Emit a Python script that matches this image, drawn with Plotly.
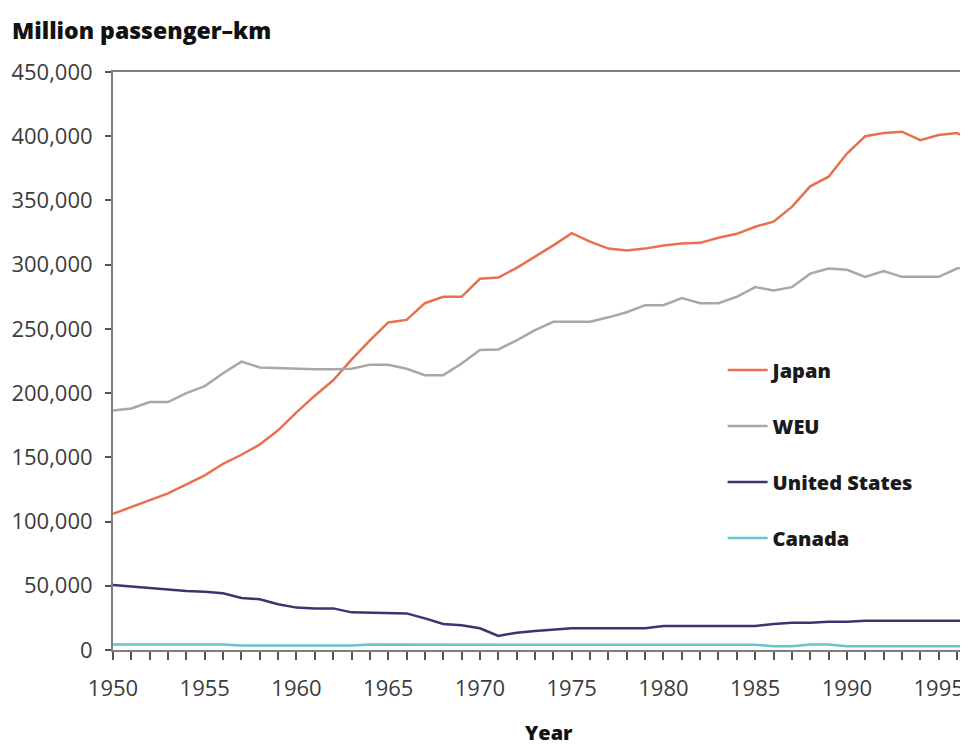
import plotly.graph_objects as go

years = list(range(1950, 1998))

japan = [106000, 111500, 117000, 122000, 129000, 136000, 145000, 152000, 160000, 171000,
         185000, 198000, 210000, 226000, 241000, 255000, 257000, 270000, 275000, 275000,
         289000, 290000, 297500, 306000, 315000, 324500, 318000, 312500, 311000, 312500,
         315000, 316500, 317000, 321000, 324000, 329500, 333500, 345000, 361000, 368500,
         386500, 400000, 402500, 403500, 397000, 401000, 402500, 396000]

weu = [186500, 188000, 193000, 193000, 200000, 205500, 215500, 224500, 220000, 219500,
       218500, 218500, 218500, 219000, 222000, 222000, 219000, 214000, 214000, 223000,
       233500, 234000, 241000, 249000, 255500, 255500, 255500, 259000, 263000, 268500,
       268500, 274000, 270000, 270000, 275000, 282500, 280000, 282500, 293000, 297000,
       296000, 290500, 295000, 290500, 290500, 290500, 297000, 299500]

united_states = [50600, 49500, 48000, 47000, 46000, 45400, 44100, 40500, 39500, 35600,
                 33000, 32400, 32400, 29300, 29000, 28500, 28500, 24600, 20200, 19200,
                 16900, 11000, 13500, 14800, 15600, 16900, 16900, 16900, 16900, 16900,
                 18700, 18700, 18700, 18700, 18700, 18700, 20200, 21300, 21300, 22000,
                 22000, 22800, 22800, 22800, 22800, 22800, 22800, 22800]

canada = [4200, 4200, 4200, 4200, 4200, 4200, 4200, 3500, 3500, 3500,
          3500, 3500, 3500, 3500, 4200, 4200, 4200, 4200, 4200, 3800,
          3800, 3800, 3800, 3800, 3800, 3800, 3800, 3800, 3800, 3800,
          4000, 4000, 4000, 4000, 4000, 4000, 3000, 3000, 4200, 4200,
          3000, 3000, 3000, 3000, 3000, 3000, 3000, 3000]

series = [
    ("Japan", japan, "#E8704C"),
    ("WEU", weu, "#A8A8A8"),
    ("United States", united_states, "#3B3470"),
    ("Canada", canada, "#66C6C9"),
]

fig = go.Figure()
for name, vals, col in series:
    fig.add_trace(go.Scatter(x=years, y=vals, name=name, mode="lines",
                             line=dict(color=col, width=2.5),
                             legendgroup=name))

tickfont = dict(family="Open Sans", size=22, color="#3c3c3c")

fig.update_layout(
    width=960, height=737,
    margin=dict(l=105, r=0, t=64, b=95),
    paper_bgcolor="white", plot_bgcolor="white",
    showlegend=True,
    legend=dict(x=0.713, y=0.518, xanchor="left", yanchor="top",
                font=dict(family="Open Sans", size=20, color="#1a1a1a", weight=800),
                tracegroupgap=27, itemwidth=40, bgcolor="rgba(0,0,0,0)"),
    xaxis=dict(range=[1950, 1996.6], dtick=5, tick0=1950,
               showline=True, linecolor="#808080", linewidth=2, mirror=True,
               ticks="outside", ticklen=8, tickcolor="#555", tickwidth=1.5,
               minor=dict(dtick=1, ticks="outside", ticklen=8, tickcolor="#555", tickwidth=1.5),
               showgrid=False, zeroline=False, tickfont=tickfont,
               ticklabelstandoff=10),
    yaxis=dict(range=[0, 450000], dtick=50000, tickformat=",d",
               showline=True, linecolor="#808080", linewidth=2,
               ticks="outside", ticklen=6, tickcolor="#555", tickwidth=1.5,
               showgrid=False, zeroline=False, tickfont=tickfont,
               ticklabelstandoff=8),
    annotations=[
        dict(text="Million passenger\u2013km", xref="paper", yref="paper",
             x=-0.1205, y=1.0727, xanchor="left", yanchor="middle", showarrow=False,
             font=dict(family="Open Sans", size=23, color="#111", weight=800)),
        dict(text="Year", xref="paper", yref="paper",
             x=0.51, y=-0.1644, xanchor="center", yanchor="bottom", showarrow=False,
             yshift=-3,
             font=dict(family="Open Sans", size=20, color="#111", weight=800)),
    ],
)

fig.write_html("out.html")
